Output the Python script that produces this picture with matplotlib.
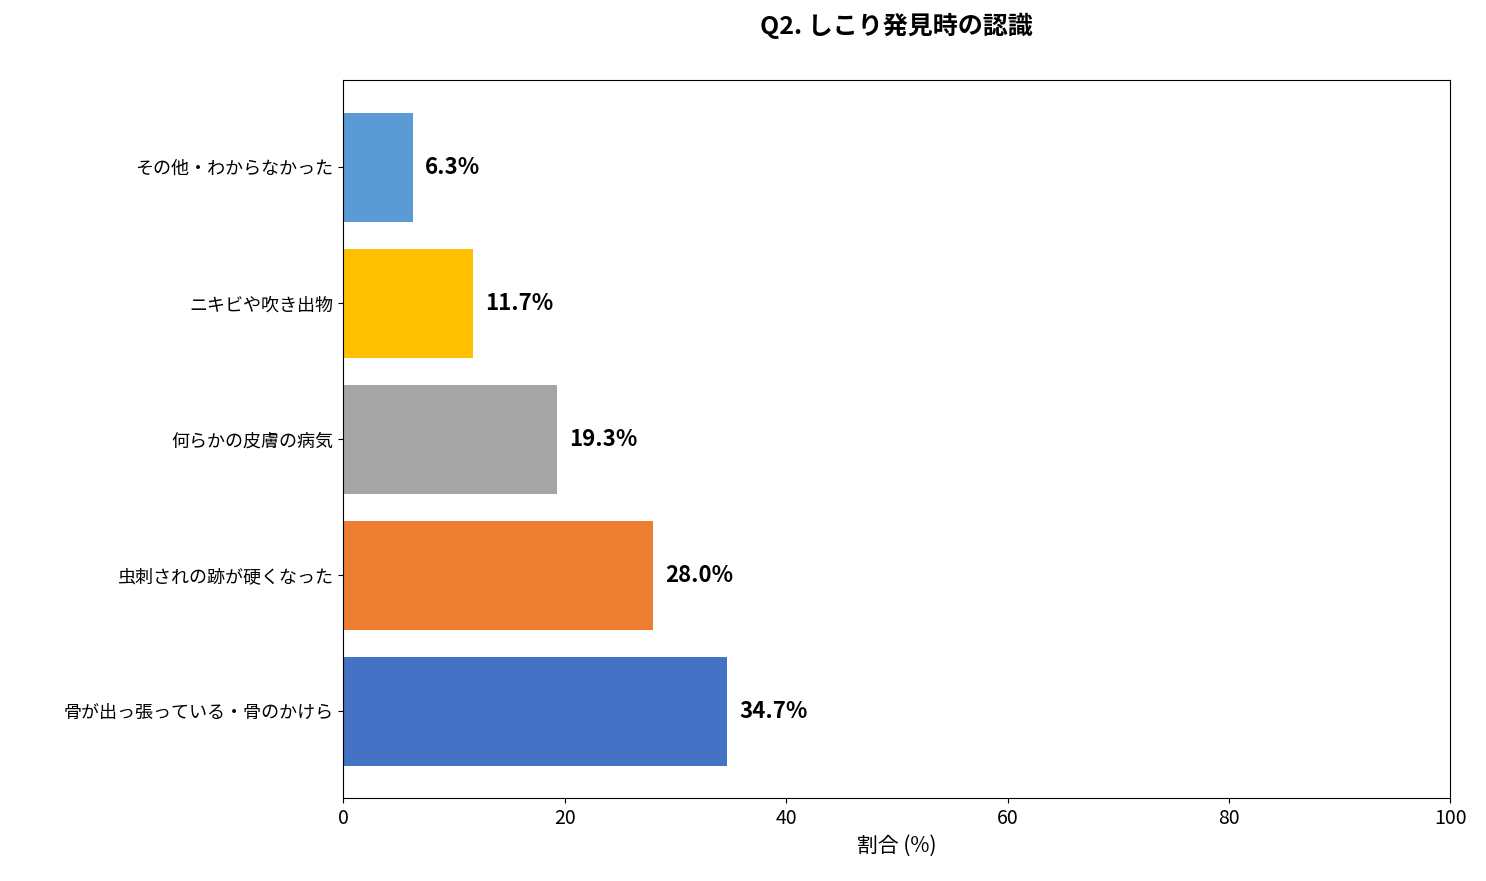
import matplotlib
matplotlib.use("Agg")
import matplotlib.pyplot as plt

plt.rcParams['font.family'] = ['Noto Sans CJK JP', 'DejaVu Sans']

categories = ['骨が出っ張っている・骨のかけら', '虫刺されの跡が硬くなった', '何らかの皮膚の病気',
              'ニキビや吹き出物', 'その他・わからなかった']
values = [34.7, 28.0, 19.3, 11.7, 6.3]
colors = ['#4472C4', '#ED7D31', '#A5A5A5', '#FFC000', '#5B9BD5']

fig = plt.figure(figsize=(14.86, 8.81), dpi=100)
ax = fig.add_axes([0.231, 0.094, 0.745, 0.815])

ax.barh(categories, values, color=colors, height=0.8)
for i, v in enumerate(values):
    ax.text(v + 1.1, i, f'{v:.1f}%', va='center', ha='left', fontsize=16, fontweight='bold')

ax.set_xlim(0, 100)
ax.set_xlabel('割合 (%)', fontsize=15)
ax.tick_params(axis='x', labelsize=14)
ax.tick_params(axis='y', labelsize=13)
fig.suptitle('Q2. しこり発見時の認識', fontsize=18, fontweight='bold', x=0.603, y=0.985)

fig.savefig('out.png', dpi=100)
